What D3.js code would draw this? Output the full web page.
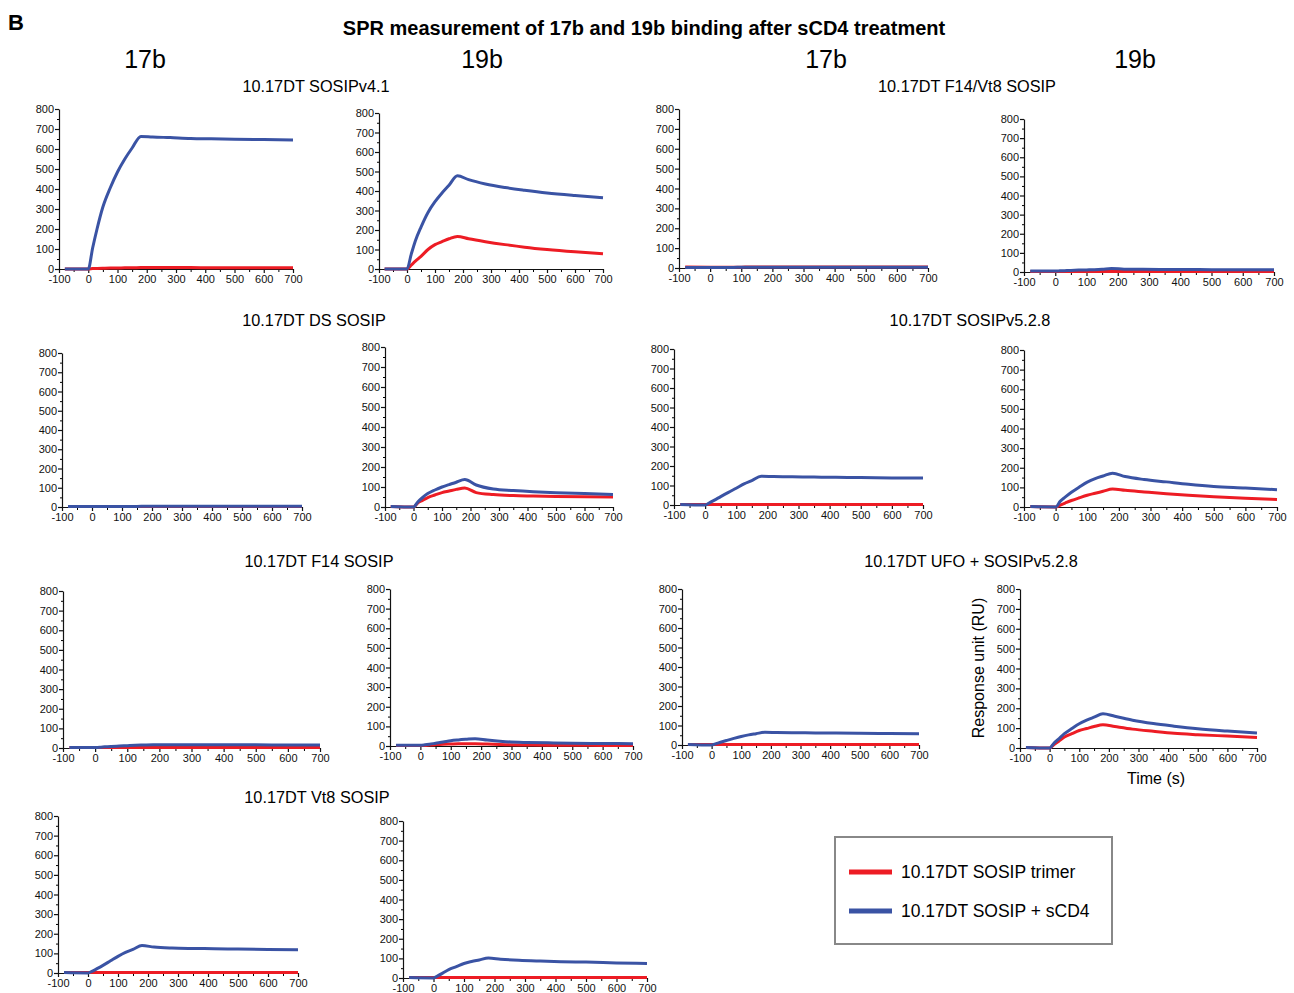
<!DOCTYPE html>
<html>
<head>
<meta charset="utf-8">
<script src="https://cdn.jsdelivr.net/npm/d3@7"></script>
<style>
  body { margin: 0; background: #fff; }
  svg { font-family: "Liberation Sans", Arial, sans-serif; }
</style>
</head>
<body>
<div id="chart"></div>
<script>
// sample times (s), shared by every sensorgram
const times = [-80, 0, 15, 30, 50, 75, 100, 125, 150, 180, 220, 280, 350, 420, 500, 600, 700];

// response units, one array per curve
const v41_17b_trimer = [0, 0, 2, 3, 4, 5, 5, 6, 6, 7, 7, 7, 7, 6, 6, 6, 6];
const v41_17b_cd4    = [0, 0, 105, 200, 310, 405, 485, 550, 605, 663, 660, 657, 653, 651, 649, 647, 645];
const v41_19b_trimer = [0, 0, 20, 40, 65, 100, 125, 140, 155, 167, 155, 140, 125, 112, 100, 88, 78];
const v41_19b_cd4    = [0, 0, 75, 145, 215, 290, 345, 390, 430, 478, 458, 436, 418, 404, 390, 377, 366];
const f14vt8_17b_trimer = [5, 4, 4, 4, 4, 4, 4, 5, 5, 5, 5, 5, 5, 5, 5, 5, 5];
const f14vt8_17b_cd4    = [3, 2, 3, 3, 3, 3, 4, 4, 4, 4, 4, 4, 4, 4, 4, 4, 4];
const f14vt8_19b_trimer = [3, 3, 3, 3, 3, 3, 3, 3, 3, 3, 3, 3, 3, 3, 3, 3, 3];
const f14vt8_19b_cd4    = [5, 5, 6, 7, 8, 10, 11, 12, 14, 18, 15, 14, 13, 13, 12, 12, 12];
const ds_17b_trimer = [2, 2, 2, 2, 2, 2, 2, 2, 2, 2, 2, 2, 2, 2, 2, 2, 2];
const ds_17b_cd4    = [2, 2, 2, 2, 3, 3, 3, 3, 3, 4, 4, 4, 4, 4, 4, 4, 4];
const ds_19b_trimer = [3, 0, 20, 32, 47, 60, 72, 80, 88, 95, 72, 62, 57, 55, 53, 51, 50];
const ds_19b_cd4    = [3, 0, 25, 45, 67, 85, 100, 112, 124, 137, 110, 90, 82, 76, 71, 67, 63];
const v528_17b_trimer = [3, 2, 2, 2, 2, 2, 2, 2, 2, 2, 2, 2, 2, 2, 2, 2, 2];
const v528_17b_cd4    = [3, 0, 12, 25, 43, 65, 86, 108, 125, 147, 146, 145, 143, 142, 141, 139, 138];
const v528_19b_trimer = [2, 0, 10, 20, 33, 47, 60, 70, 80, 92, 85, 77, 68, 60, 52, 44, 38];
const v528_19b_cd4    = [2, 0, 30, 50, 75, 102, 127, 145, 158, 172, 155, 140, 128, 116, 105, 97, 88];
const f14_17b_trimer = [2, 2, 2, 2, 2, 3, 3, 3, 3, 3, 3, 3, 3, 3, 3, 3, 3];
const f14_17b_cd4    = [3, 3, 4, 6, 8, 10, 12, 14, 15, 16, 16, 16, 16, 16, 16, 15, 15];
const f14_19b_trimer = [2, 2, 3, 5, 7, 9, 10, 11, 11, 12, 10, 7, 5, 4, 4, 3, 3];
const f14_19b_cd4    = [4, 4, 6, 9, 14, 20, 27, 31, 34, 37, 30, 22, 18, 16, 14, 13, 12];
const ufo_17b_trimer = [2, 2, 2, 2, 2, 2, 2, 2, 2, 2, 2, 2, 2, 2, 2, 2, 2];
const ufo_17b_cd4    = [3, 0, 7, 14, 23, 34, 44, 52, 58, 65, 64, 63, 62, 61, 60, 59, 58];
const ufo_19b_trimer = [3, 0, 18, 33, 55, 72, 88, 98, 108, 117, 108, 95, 84, 74, 67, 60, 53];
const ufo_19b_cd4    = [3, 0, 25, 45, 72, 98, 122, 140, 155, 172, 160, 140, 123, 110, 97, 85, 75];
const vt8_17b_trimer = [2, 2, 2, 2, 2, 2, 2, 2, 2, 2, 2, 2, 2, 2, 2, 2, 2];
const vt8_17b_cd4    = [2, 0, 10, 22, 39, 62, 85, 105, 120, 140, 132, 127, 125, 124, 122, 120, 119];
const vt8_19b_trimer = [2, 2, 2, 2, 2, 2, 2, 2, 2, 2, 2, 2, 2, 2, 2, 2, 2];
const vt8_19b_cd4    = [2, 0, 12, 25, 43, 58, 74, 84, 92, 102, 96, 90, 86, 83, 81, 77, 74];

const xTicks = [-100, 0, 100, 200, 300, 400, 500, 600, 700];
const yTicks = [0, 100, 200, 300, 400, 500, 600, 700, 800];
const columnLabels = ["17b", "19b", "17b", "19b"];
const seriesNames = ["10.17DT SOSIP trimer", "10.17DT SOSIP + sCD4"];
const colors = ["#ed1c24", "#3a53a4"];

// panel boxes: pixel of x=-100, x=700, y=0, y=800
const panels = [
  { box: [59, 293, 269, 109],   red: v41_17b_trimer,    blue: v41_17b_cd4 },
  { box: [379, 603, 269, 113],  red: v41_19b_trimer,    blue: v41_19b_cd4 },
  { box: [679, 928, 268, 109],  red: f14vt8_17b_trimer, blue: f14vt8_17b_cd4 },
  { box: [1024, 1274, 272, 119], red: f14vt8_19b_trimer, blue: f14vt8_19b_cd4 },
  { box: [62, 302, 507, 353],   red: ds_17b_trimer,     blue: ds_17b_cd4 },
  { box: [385, 613, 507, 347],  red: ds_19b_trimer,     blue: ds_19b_cd4 },
  { box: [674, 923, 505, 349],  red: v528_17b_trimer,   blue: v528_17b_cd4 },
  { box: [1024, 1277, 507, 350], red: v528_19b_trimer,  blue: v528_19b_cd4 },
  { box: [63, 320, 748, 591],   red: f14_17b_trimer,    blue: f14_17b_cd4 },
  { box: [390, 633, 746, 589],  red: f14_19b_trimer,    blue: f14_19b_cd4 },
  { box: [682, 919, 745, 589],  red: ufo_17b_trimer,    blue: ufo_17b_cd4 },
  { box: [1020, 1257, 748, 589], red: ufo_19b_trimer,   blue: ufo_19b_cd4 },
  { box: [58, 298, 973, 816],   red: vt8_17b_trimer,    blue: vt8_17b_cd4 },
  { box: [403, 647, 978, 821],  red: vt8_19b_trimer,    blue: vt8_19b_cd4 }
];

const groupTitles = [
  { text: "10.17DT SOSIPv4.1", x: 316, y: 92 },
  { text: "10.17DT F14/Vt8 SOSIP", x: 967, y: 92 },
  { text: "10.17DT DS SOSIP", x: 314, y: 326 },
  { text: "10.17DT SOSIPv5.2.8", x: 970, y: 326 },
  { text: "10.17DT F14 SOSIP", x: 319, y: 567 },
  { text: "10.17DT UFO + SOSIPv5.2.8", x: 971, y: 567 },
  { text: "10.17DT Vt8 SOSIP", x: 317, y: 803 }
];

const svg = d3.select("#chart").append("svg")
  .attr("width", 1294)
  .attr("height", 993);

svg.append("text").attr("x", 8).attr("y", 30)
  .attr("font-size", 22).attr("font-weight", "bold").text("B");

svg.append("text").attr("x", 644).attr("y", 35)
  .attr("text-anchor", "middle").attr("font-size", 20).attr("font-weight", "bold")
  .text("SPR measurement of 17b and 19b binding after sCD4 treatment");

const colX = [145, 482, 826, 1135];
svg.selectAll(".col").data(columnLabels).enter().append("text")
  .attr("x", (d, i) => colX[i]).attr("y", 68)
  .attr("text-anchor", "middle").attr("font-size", 25).text(d => d);

svg.selectAll(".gt").data(groupTitles).enter().append("text")
  .attr("x", d => d.x).attr("y", d => d.y)
  .attr("text-anchor", "middle").attr("font-size", 16.3).text(d => d.text);

panels.forEach(p => {
  const [x0, x1, y0, y1] = p.box;
  const x = d3.scaleLinear().domain([-100, 700]).range([x0, x1]);
  const y = d3.scaleLinear().domain([0, 800]).range([y0, y1]);
  const g = svg.append("g");

  // minor ticks
  g.append("g").attr("transform", `translate(${x0},0)`)
    .call(d3.axisLeft(y).tickValues(d3.range(50, 800, 100)).tickSize(2).tickFormat(""))
    .call(a => a.select(".domain").remove());
  g.append("g").attr("transform", `translate(0,${y0})`)
    .call(d3.axisBottom(x).tickValues(d3.range(-50, 700, 100)).tickSize(3).tickFormat(""))
    .call(a => a.select(".domain").remove());

  const ya = g.append("g").attr("transform", `translate(${x0},0)`)
    .call(d3.axisLeft(y).tickValues(yTicks).tickSize(4).tickSizeOuter(0).tickPadding(1)
      .tickFormat(d => String(d)));
  const xa = g.append("g").attr("transform", `translate(0,${y0})`)
    .call(d3.axisBottom(x).tickValues(xTicks).tickSize(4).tickSizeOuter(0).tickPadding(2)
      .tickFormat(d => String(d)));
  [ya, xa].forEach(a => {
    a.selectAll("text").attr("font-size", 11).attr("fill", "#111")
      .attr("font-family", "'Liberation Sans', Arial, sans-serif");
    a.selectAll("line, path").attr("stroke", "#111").attr("stroke-width", 1.2);
  });

  const line = d3.line().x((d, i) => x(times[i])).y(d => y(d)).curve(d3.curveMonotoneX);
  [[p.red, colors[0]], [p.blue, colors[1]]].forEach(([vals, c]) => {
    g.append("path").datum(vals).attr("d", line)
      .attr("fill", "none").attr("stroke", c).attr("stroke-width", 3)
      .attr("stroke-linejoin", "round");
  });
});

// axis titles on the UFO 19b panel
svg.append("text")
  .attr("transform", "translate(984,668) rotate(-90)")
  .attr("text-anchor", "middle").attr("font-size", 16).text("Response unit (RU)");
svg.append("text").attr("x", 1156).attr("y", 784)
  .attr("text-anchor", "middle").attr("font-size", 16).text("Time (s)");

// legend
const lg = svg.append("g");
lg.append("rect").attr("x", 835).attr("y", 837).attr("width", 277).attr("height", 107)
  .attr("fill", "#fff").attr("stroke", "#888").attr("stroke-width", 2);
seriesNames.forEach((s, i) => {
  const yy = 872 + i * 39;
  lg.append("line").attr("x1", 849).attr("x2", 892).attr("y1", yy).attr("y2", yy)
    .attr("stroke", colors[i]).attr("stroke-width", 5);
  lg.append("text").attr("x", 901).attr("y", yy + 6).attr("font-size", 17.5).text(s);
});
</script>
</body>
</html>
